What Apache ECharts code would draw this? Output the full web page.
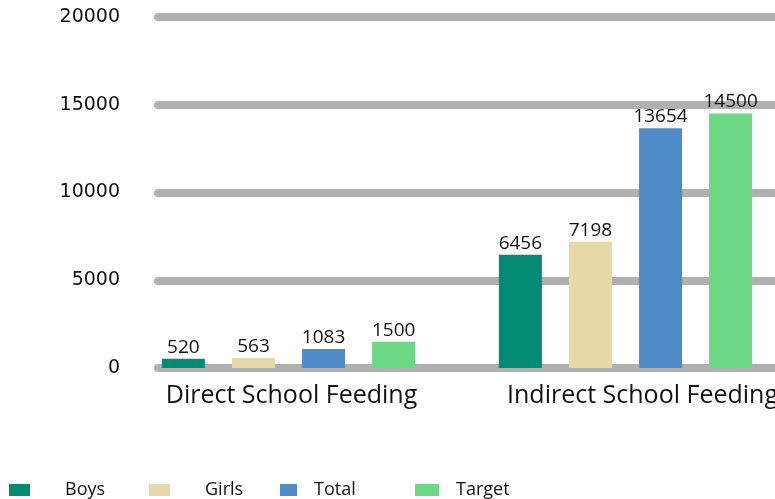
<!DOCTYPE html>
<html>
<head>
<meta charset="utf-8">
<script src="https://cdn.jsdelivr.net/npm/echarts@6/dist/echarts.min.js"></script>
<style>
  * { margin: 0; padding: 0; }
  body { background: #fff; }
</style>
</head>
<body>
<div id="chart" style="width: 775px; height: 499px;"></div>
<script>
var categories = ["Direct School Feeding", "Indirect School Feeding"];
var boys = [520, 6456];
var girls = [563, 7198];
var total = [1083, 13654];
var target = [1500, 14500];
var yTicks = [0, 5000, 10000, 15000, 20000];

var colors = {
  Boys: "#018b75",
  Girls: "#e7d9a7",
  Total: "#4f8ac9",
  Target: "#6bd883"
};
var fontFamily = "Open Sans";

function makeSeries(name, data) {
  return {
    name: name,
    type: "bar",
    xAxisIndex: 1,
    yAxisIndex: 1,
    data: data,
    barWidth: 43,
    barGap: "63%",
    itemStyle: { color: colors[name] },
    label: {
      show: true,
      position: "top", // 数值显示在柱子上面
      distance: 2,
      fontSize: 19,
      fontFamily: fontFamily,
      color: "#111"
    }
  };
}

function makeLegend(name, left, iconW, textGap) {
  return {
    data: [name],
    left: left,
    top: 481,
    padding: 0,
    itemWidth: iconW,
    itemHeight: 12,
    icon: "rect",
    textStyle: {
      fontSize: 18,
      fontFamily: fontFamily,
      color: "#111",
      padding: [0, 0, 0, textGap]
    }
  };
}

var chart = echarts.init(document.getElementById("chart"));
var option = {
  animation: false,
  legend: [
    makeLegend("Boys", 9, 21, 30),
    makeLegend("Girls", 149, 21, 30),
    makeLegend("Total", 280, 17, 12),
    makeLegend("Target", 415, 24, 12)
  ],
  grid: [
    // 网格线
    { left: 158, width: 650, top: 17, bottom: 131, outerBoundsMode: "none" },
    // 柱子
    { left: 120, width: 674, top: 17, bottom: 131, outerBoundsMode: "none" }
  ],
  xAxis: [
    { gridIndex: 0, type: "value", show: false },
    {
      gridIndex: 1,
      type: "category",
      data: categories,
      axisLine: { show: false },
      axisTick: { show: false },
      axisLabel: {
        interval: 0,
        margin: 15,
        fontSize: 25,
        fontFamily: fontFamily,
        color: "#111",
        formatter: function (v, i) {
          return i === 0 ? "{a|" + v + "}" : "{b|" + v + "}";
        },
        rich: {
          a: { fontSize: 25, fontFamily: fontFamily, color: "#111", padding: [0, 0, 0, 6] },
          b: { fontSize: 25, fontFamily: fontFamily, color: "#111", padding: [0, 0, 0, 34] }
        }
      }
    }
  ],
  yAxis: [
    {
      gridIndex: 0,
      type: "value",
      min: yTicks[0],
      max: yTicks[yTicks.length - 1],
      interval: yTicks[1] - yTicks[0],
      axisLine: { show: false },
      axisTick: { show: false },
      axisLabel: {
        margin: 38,
        fontSize: 19,
        fontFamily: "DejaVu Sans",
        color: "#111",
        formatter: function (v) { return String(v); }
      },
      splitLine: {
        show: true,
        lineStyle: { color: "#b0b0b0", width: 8, cap: "round" }
      }
    },
    {
      gridIndex: 1,
      type: "value",
      min: yTicks[0],
      max: yTicks[yTicks.length - 1],
      interval: yTicks[1] - yTicks[0],
      show: false,
      splitLine: { show: false }
    }
  ],
  series: [
    makeSeries("Boys", boys),
    makeSeries("Girls", girls),
    makeSeries("Total", total),
    makeSeries("Target", target)
  ]
};
chart.setOption(option);
</script>
</body>
</html>
